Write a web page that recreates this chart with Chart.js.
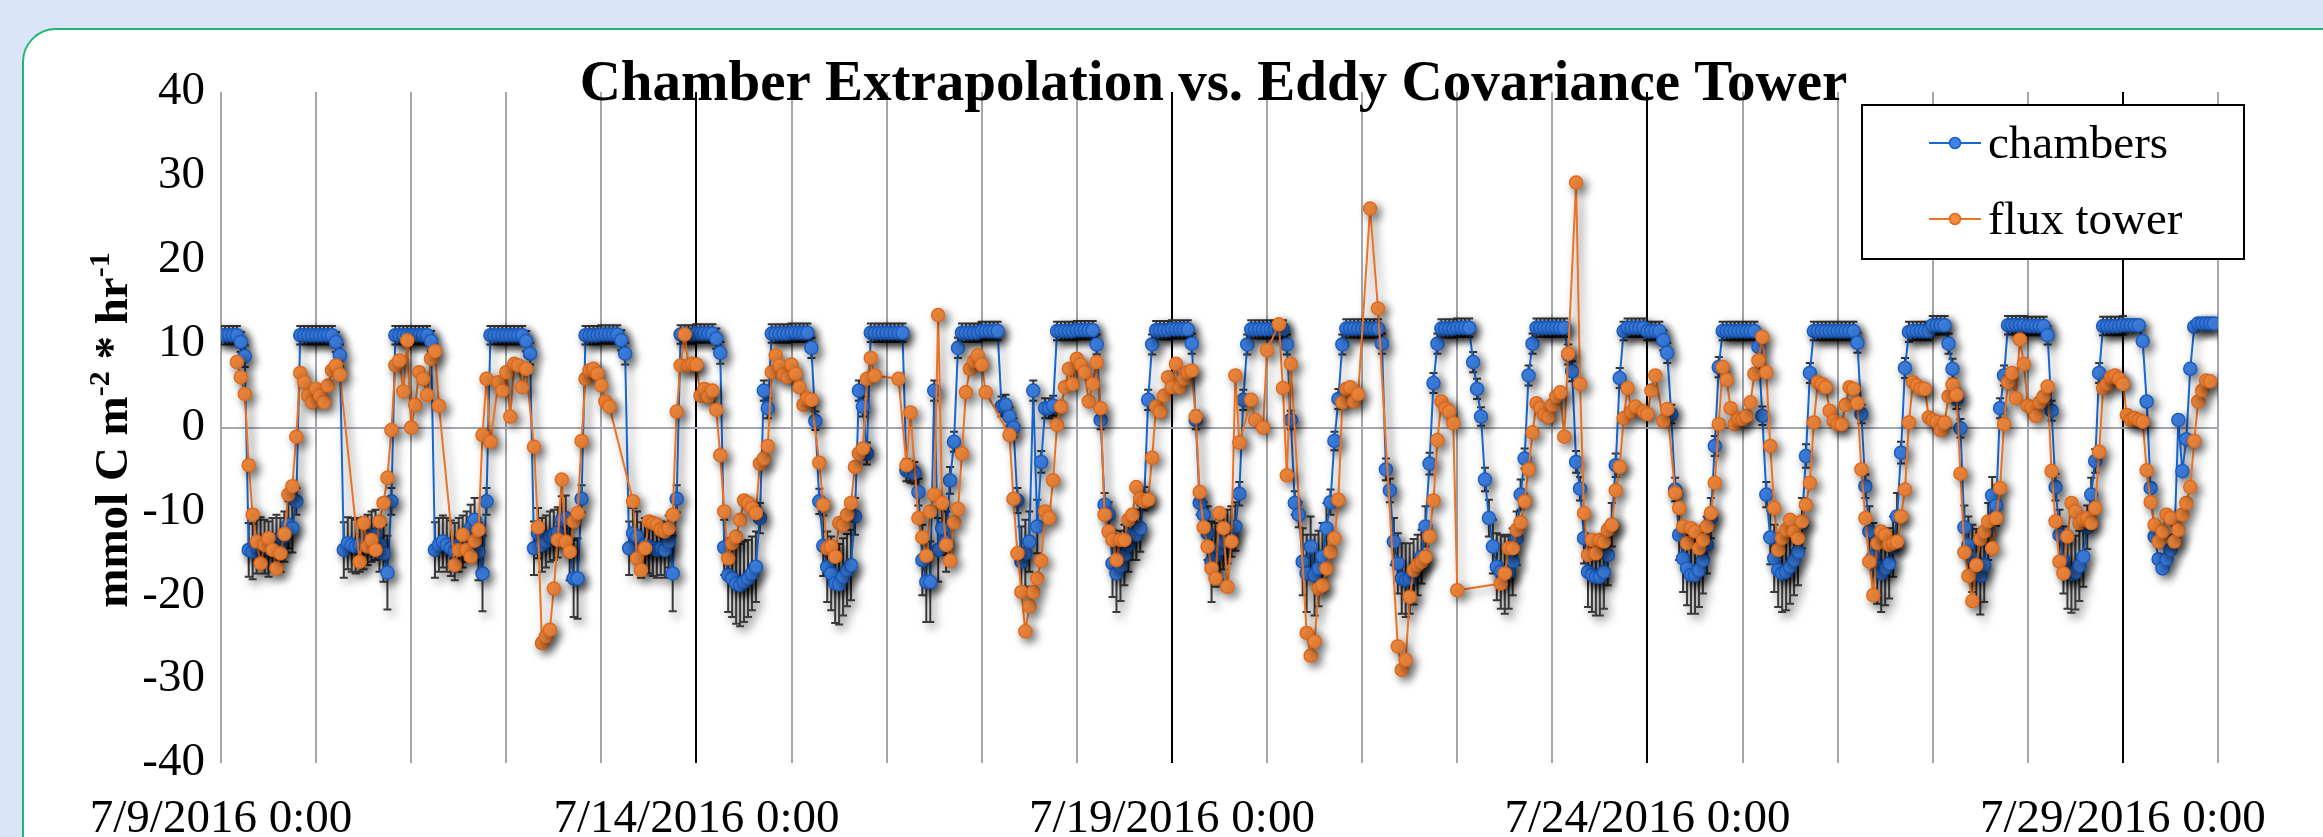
<!DOCTYPE html>
<html>
<head>
<meta charset="utf-8">
<title>Chamber Extrapolation vs. Eddy Covariance Tower</title>
<script src="https://cdn.jsdelivr.net/npm/chart.js@4.4.1/dist/chart.umd.min.js"></script>
<style>
  html, body { margin: 0; padding: 0; background: #dbe5f9; overflow: hidden; }
  .card { position: absolute; left: 22px; top: 28px; width: 2360px; height: 900px; background: #fff; border: 2px solid #22b573; border-radius: 34px; }
  .wrap { position: absolute; left: 0; top: 0; width: 2323px; height: 837px; }
</style>
</head>
<body>
<div class="card"></div>
<div class="wrap"><canvas id="fluxChart"></canvas></div>
<script>
var chartTitle = 'Chamber Extrapolation vs. Eddy Covariance Tower';
var yTitleParts = [['mmol C m', false], ['-2', true], [' * hr', false], ['-1', true]];
var xTickLabels = ['7/9/2016 0:00', '7/14/2016 0:00', '7/19/2016 0:00', '7/24/2016 0:00', '7/29/2016 0:00'];
var hoursPerLabel = 120;
var yMin = -40, yMax = 40, yStep = 10;

// hourly values from 7/9/2016 0:00, one line per day
var chambers = [
  11,11,11,11,11,10.2,8.5,-14.6,-14.8,-14.2,-13.8,-14.2,-14.5,-14,-13.4,-14,-13,-11.6,-12,-8.8,11,11,11,11,
  11,11,11,11,11,10.2,8.6,-14.6,-13.8,-14,-14.2,-14,-13.8,-13.4,-13,-12.8,-14,-15,-17.3,-8.8,11,11,11,11,
  11,11,11,11,11,10.3,-14.6,-14,-13.6,-14,-14.4,-14.8,-14,-13.6,-13,-12,-11,-14.8,-17.4,-8.8,11,11,11,11,
  11,11,11,11,11,10.3,8.8,-14.4,-12.6,-14,-13.6,-13,-12.8,-12.5,-11,-10.8,-14.8,-18,-18,-8.5,11,11,11,11,
  11.1,11.1,11.1,11.1,11.1,10.4,8.8,-14.4,-12.6,-13,-14.6,-14,-14.2,-14.4,-14.6,-14.4,-14.6,-13.6,-17.4,-8.5,11.1,11.1,11.1,11.1,
  11.2,11.2,11.2,11.2,11.2,10.6,8.9,-14.3,-17.6,-18,-18.6,-18.8,-18.4,-18,-17.4,-16.6,-10.8,4.4,2.3,11.2,11.2,11.2,11.2,11.2,
  11.3,11.3,11.3,11.3,11.3,9.5,0.8,-8.8,-14.1,-16.6,-17.4,-18.6,-18.7,-17.8,-17,-16.4,-10.6,4.4,2.5,-3.1,11.3,11.3,11.3,11.3,
  11.3,11.3,11.3,11.3,11.3,-5.1,-5.3,-5.4,-7.7,-15.8,-18.4,-18.4,4.4,-14.6,-12,-13.6,-6.3,-1.7,9.5,11.3,11.3,11.3,11.3,11.3,
  11.5,11.5,11.5,11.5,11.5,2.5,2.7,1.3,0,-8.7,-16,-15,-13.6,4.4,-11.8,-4.1,2.3,2.3,2.6,11.5,11.5,11.5,11.5,11.5,
  11.6,11.6,11.6,11.6,11.6,9.9,0.9,-9.2,-10.4,-16.2,-17.4,-16.5,-15.2,-14,-12.8,-12.8,-12,-8.5,3.3,9.9,11.6,11.6,11.6,11.6,
  11.7,11.7,11.7,11.7,11.7,10,0.9,-9,-10.4,-12.6,-16,-15.2,-14.5,-13.6,-13,-12.4,-11.8,-7.9,3.3,9.9,11.7,11.7,11.7,11.7,
  11.7,11.7,11.7,11.7,11.7,9.9,0.9,-9,-10.4,-16,-17.4,-14.2,-17.6,-16.8,-15.4,-12,-8.9,-1.6,3.4,9.9,11.8,11.8,11.8,11.8,
  11.8,11.8,11.8,11.8,11.8,10,-5,-7.5,-13.6,-16.2,-18,-18.2,-18,-17.2,-16.4,-15.4,-11.8,-4.3,5.3,10,11.8,11.8,11.8,11.8,
  11.9,11.9,11.9,11.9,7.8,4.6,1.3,-6.2,-10.8,-14.2,-16.6,-17.2,-17.6,-17.2,-16,-13.2,-8,-3.7,6.2,10,11.9,11.9,11.9,11.9,
  11.9,11.9,11.9,11.9,8.7,6.7,-4.1,-7.3,-13.2,-17.2,-17.6,-17.8,-17.8,-17.2,-15.2,-11.6,-4.5,5.9,11.5,11.9,11.9,11.9,11.9,11.9,
  11.5,11.5,11.5,11.5,10.4,8.9,1.6,-7.4,-12.8,-15.6,-16.8,-17.6,-17.6,-17,-15.8,-14,-10.8,-2.2,7.2,11.5,11.5,11.5,11.5,11.5,
  11.5,11.5,11.5,11.5,9.6,1.4,-8,-13.1,-15.6,-17,-17.4,-17.2,-16.6,-15.8,-14.8,-11.4,-3.4,6.5,11.5,11.5,11.5,11.5,11.5,11.5,
  11.5,11.5,11.5,11.5,11.5,10.1,1.6,-7,-12.4,-15.4,-16.6,-17.4,-16.8,-16.2,-14.2,-10.6,-3,7.1,11.4,11.5,11.5,11.5,11.5,11.5,
  12.2,12.2,12.2,12.2,10,7,3.4,-0.1,-11.9,-14,-15.6,-16.5,-17.7,-16.4,-12.4,-8.1,-9.3,2.3,6.2,12.2,12.2,12.2,12.2,12.2,
  12.1,12.1,12.1,12.1,12.1,11,2,-7.1,-12.8,-15.8,-17.2,-17.5,-17.3,-16.5,-15.4,-11.9,-8,-4,6.5,12.1,12.1,12.1,12.1,12.1,
  12.2,12.2,12.2,12.2,12.2,10.3,3.1,-7.2,-13,-15.7,-16.8,-15.7,-14.6,-13.4,0.9,-5.2,-1.4,7,12,12.4,12.4,12.4,12.4,12.4
];

// error bar half-widths for the chambers
var chambersSd = [
  1.1,1.1,1.1,1.1,1.1,1.2,1.3,3.2,3.3,3.2,3.1,3.2,3.3,3.2,3,3.2,3,2.8,2.9,1.6,1.1,1.1,1.1,1.1,
  1.1,1.1,1.1,1.1,1.1,1.2,1.3,3.3,3.1,3.2,3.2,3.2,3.1,3,3,3,3.2,3.4,4.4,1.6,1.1,1.1,1.1,1.1,
  1.1,1.1,1.1,1.1,1.1,1.2,3.3,3.2,3.1,3.2,3.3,3.4,3.2,3.1,3,2.8,2.6,3.4,4.5,1.6,1.1,1.1,1.1,1.1,
  1.1,1.1,1.1,1.1,1.1,1.2,1.3,3.2,3,3.2,3.1,3,3,3,2.8,2.7,3.4,4.6,4.8,1.6,1.1,1.1,1.1,1.1,
  1.1,1.1,1.1,1.1,1.1,1.2,1.3,3.2,3,3,3.3,3.2,3.2,3.3,3.3,3.2,3.3,3.1,4.5,1.6,1.1,1.1,1.1,1.1,
  1.1,1.1,1.1,1.1,1.1,1.2,1.3,3.3,4.4,4.6,4.8,4.9,4.8,4.6,4.4,4.2,1.8,1.2,1.2,1.1,1.1,1.1,1.1,1.1,
  1.1,1.1,1.1,1.1,1.1,1.2,1.1,1.5,3.6,4.2,4.4,4.7,4.8,4.6,4.3,4.2,2.2,1.2,1.2,1.3,1.1,1.1,1.1,1.1,
  1.1,1.1,1.1,1.1,1.1,1.3,1.3,1.3,1.6,4.2,4.8,4.8,1.2,3.8,3.2,3.6,1.6,1.2,1.2,1.1,1.1,1.1,1.1,1.1,
  1.1,1.1,1.1,1.1,1.1,1.2,1.2,1.1,1.1,1.5,4.2,4,3.6,1.2,3.2,1.3,1.2,1.2,1.2,1.1,1.1,1.1,1.1,1.1,
  1.1,1.1,1.1,1.1,1.1,1.2,1.1,1.4,1.5,4,4.6,4.2,3.6,3.2,3,3,2.8,1.4,1.2,1.2,1.1,1.1,1.1,1.1,
  1.1,1.1,1.1,1.1,1.1,1.2,1.1,1.4,1.5,3.2,4.8,3.8,3.6,3.3,3.2,3,2.9,1.4,1.2,1.2,1.1,1.1,1.1,1.1,
  1.1,1.1,1.1,1.1,1.1,1.2,1.1,1.4,1.5,4,4.6,3.6,4.8,4.5,4,3,1.5,1.1,1.2,1.2,1.1,1.1,1.1,1.1,
  1.1,1.1,1.1,1.1,1.1,1.2,1.3,1.4,2.8,3.6,4.2,4.4,4.2,3.9,3.6,3.2,2.4,1.3,1.2,1.2,1.1,1.1,1.1,1.1,
  1.1,1.1,1.1,1.1,1.2,1.2,1.1,1.4,2.2,3.2,4,4.4,4.6,4.4,4,3.2,1.8,1.2,1.2,1.2,1.1,1.1,1.1,1.1,
  1.1,1.1,1.1,1.1,1.2,1.2,1.3,1.4,3,4.2,4.4,4.6,4.6,4.4,3.6,2.6,1.4,1.2,1.1,1.1,1.1,1.1,1.1,1.1,
  1.1,1.1,1.1,1.1,1.2,1.2,1.1,1.4,3,4,4.4,4.6,4.6,4.4,4,3.4,2.4,1.2,1.2,1.1,1.1,1.1,1.1,1.1,
  1.1,1.1,1.1,1.1,1.2,1.1,1.5,3.2,4,4.4,4.6,4.6,4.4,4.2,4,3,1.4,1.2,1.1,1.1,1.1,1.1,1.1,1.1,
  1.1,1.1,1.1,1.1,1.1,1.2,1.1,1.4,3,4,4.4,4.6,4.4,4.2,3.6,2.8,1.3,1.2,1.2,1.1,1.1,1.1,1.1,1.1,
  1.1,1.1,1.1,1.1,1.2,1.2,1.2,1.1,2.6,3.4,4,4.4,4.6,4.4,3.4,2.2,2.4,1.2,1.2,1.1,1.1,1.1,1.1,1.1,
  1.1,1.1,1.1,1.1,1.1,1.1,1.2,1.6,3,4,4.4,4.6,4.4,4.2,3.6,2.6,2,1.4,1.2,1.1,1.1,1.1,1.1,1.1,
  1.1,null,null,null,null,null,null,null,null,null,null,null,null,null,null,null,null,null,null,null,null,null,null,null
];

var fluxTower = [
  null,null,null,null,7.8,6.0,4.0,-4.5,-10.4,-13.6,-16.2,-14,-13.2,-14.6,-16.8,-15,-12.7,-8,-7,-1.1,6.5,5.4,3.8,3.0,
  4.6,3.8,3.0,5.0,6.8,7.4,6.3,null,null,null,null,-16,-11.4,-14.2,-13.4,-14.6,-11.2,-9,-6,-0.3,7.4,8.0,4.3,10.4,
  0,2.7,6.6,5.8,3.9,8.2,9.1,2.6,null,null,null,-16.4,-14.6,-12.8,-14.6,-15.4,-13.5,-12.2,-0.9,5.8,-1.7,null,5.4,4.4,
  6.6,1.3,7.6,7.4,4.8,7.0,null,-2.3,-11.9,-25.7,-24.9,-24.1,-19.2,-13.4,-6.2,-13.6,-14.8,-11.2,-10.2,-1.6,5.8,6.8,7.0,6.4,
  5.0,3.1,2.5,null,null,null,null,null,-8.8,-15.6,-17,-14.4,-11.2,-11.4,-11.6,-12.2,-12.4,-12,-10.4,1.9,7.4,11.1,7.4,7.6,
  7.5,3.8,4.6,3.7,4.4,2.1,-3.3,-10,-15.6,-13.8,-13,-11,-8.7,-9,-9.6,-10.2,-4.3,-3.7,-2.2,6.6,8.6,7.4,6.3,6.0,
  7.5,6.4,4.8,2.7,3.5,3.3,null,-4.2,-9.2,-14.4,-14.2,-15.4,-11.4,-11.6,-10.4,-9,-4.7,-3.1,-2.5,5.8,8.3,6.2,null,null,
  null,null,null,5.8,null,-4.5,1.8,null,-10.8,-13.1,-15.3,-10,-8,13.4,-9,-14,-15.9,-11.3,-9.7,-3.1,4.2,7.0,7.9,8.6,
  7.5,4.2,null,null,null,null,null,-0.9,-8.5,-15,-19.6,-24.3,-21.3,-19.6,-18,-15.9,-10,-10.8,-6.3,0.3,2.5,4.8,7.0,5.2,
  8.2,7.5,6.6,3.1,5.2,7.8,2.3,-10.4,-12.4,-13.4,-15.8,-13.4,-13.4,-11,-10.4,-7.1,-8.5,-8.8,-8.6,-3.6,2.5,1.9,3.8,6.0,
  4.8,7.6,4.8,5.8,6.6,6.8,1.3,-7.7,-11.9,-14.2,-16.8,-18,-10.2,-12,-19,-13.6,6.2,-1.8,null,null,3.3,0.9,null,0,
  9.2,null,null,12.3,4.7,-5.7,7.6,null,null,null,-24.5,-27.2,-25.5,-19.2,-18.8,-16.8,-14.8,-13.2,-8.6,3.0,4.6,4.8,3.1,4.0,
  null,null,26.1,null,14.2,null,null,null,null,-26.1,-28.9,-27.7,-20.2,-17,-16.4,-16,-15.4,-13,-8.7,-1.5,3.1,2.3,1.9,0.5,
  -19.4,null,null,null,null,null,null,null,null,null,null,-18.6,-17.4,-14.4,-14.4,-12.2,-11.3,-8.8,-5.0,-0.6,2.9,2.3,1.5,1.3,
  2.7,3.7,4.2,-1.1,8.8,null,29.2,5.2,-10.2,-15.2,-13.4,-15,-13.4,-13.6,-12.2,-11.6,-7.5,-4.7,1.1,4.7,1.9,2.5,null,1.9,
  1.6,4.4,6.2,null,0.8,2.2,null,-7.8,-9.6,-11.8,-13.8,-12,-12.4,-14.4,-13.4,-11.8,-10.2,-6.6,0.4,7.2,5.7,2.3,0.4,1.0,
  1.0,1.4,3.0,6.4,8.0,10.8,6.6,-2.2,-9.6,-14.6,-13.2,-12.2,-11,-12.4,-13.2,-11.2,-9.2,-6.6,0.6,5.4,5.2,4.8,2.0,0.8,
  0.4,0.4,2.7,4.8,4.6,2.9,-5,-10.8,-16,-20,-13.8,-12.4,-12.8,-14,-13.8,-13.6,-10.6,-7.4,0.6,5.4,5.0,4.6,4.6,1.2,
  0.9,0.7,-0.3,0.6,3.7,5.1,3.9,-5.5,-14.9,-17.7,-20.7,-16.4,-13.3,-12.4,-11.2,-14.4,-10.8,-7.2,0.4,5.4,6.5,3.5,10.5,7.6,
  2.6,2.4,1.4,3.0,3.7,4.9,-5.2,-11.2,-16,-17.4,-13,-9,-10,-11.4,-11,-10.8,-11.4,-9.6,-2.9,4.7,5.2,6.0,6.2,5.8,
  5.2,1.5,0.9,1.1,0.9,0.7,-5.1,-8.9,-11.6,-13.6,-12.4,-10.4,-10.8,-13.6,-12.2,-10.4,-9,-7.1,-1.6,3.1,4.4,5.6,5.5,null
];

var serif = "'Liberation Serif', 'Times New Roman', serif";
Chart.defaults.font.family = serif;
Chart.defaults.color = '#000';

function toPoints(values) {
    return values.map(function(v, i) { return { x: i, y: v }; });
}

// soft drop shadow under everything the datasets draw
var shadowPlugin = {
    id: 'markerShadow',
    beforeDatasetsDraw: function(chart) {
        var ctx = chart.ctx;
        ctx.save();
        ctx.shadowColor = 'rgba(0,0,0,0.55)';
        ctx.shadowBlur = 10;
        ctx.shadowOffsetX = 4;
        ctx.shadowOffsetY = 4;
    },
    afterDatasetsDraw: function(chart) {
        chart.ctx.restore();
    }
};

var errorBarPlugin = {
    id: 'errorBars',
    beforeDatasetDraw: function(chart, args) {
        if (args.index !== 0) return;
        var ctx = chart.ctx, xs = chart.scales.x, ys = chart.scales.y, area = chart.chartArea;
        ctx.save();
        ctx.beginPath();
        ctx.rect(area.left, area.top, area.right - area.left, area.bottom - area.top);
        ctx.clip();
        ctx.strokeStyle = '#3a3a3a';
        ctx.lineWidth = 2;
        ctx.beginPath();
        chambers.forEach(function(v, i) {
            var e = chambersSd[i];
            if (v === null || e === null) return;
            var px = xs.getPixelForValue(i);
            var top = ys.getPixelForValue(v + e);
            var bot = ys.getPixelForValue(v - e);
            ctx.moveTo(px, top); ctx.lineTo(px, bot);
            ctx.moveTo(px - 4, top); ctx.lineTo(px + 4, top);
            ctx.moveTo(px - 4, bot); ctx.lineTo(px + 4, bot);
        });
        ctx.stroke();
        ctx.restore();
    }
};

var decorPlugin = {
    id: 'decor',
    afterDraw: function(chart) {
        var ctx = chart.ctx, area = chart.chartArea;

        // title
        ctx.save();
        ctx.fillStyle = '#000';
        ctx.font = 'bold 57px ' + serif;
        ctx.textAlign = 'center';
        ctx.textBaseline = 'alphabetic';
        ctx.fillText(chartTitle, (area.left + area.right) / 2 - 6, 100);
        ctx.restore();

        // y axis title with superscripts
        ctx.save();
        ctx.translate(127, 430);
        ctx.rotate(-Math.PI / 2);
        ctx.fillStyle = '#000';
        ctx.textAlign = 'left';
        ctx.textBaseline = 'alphabetic';
        var mainFont = 'bold 47px ' + serif, supFont = 'bold 30px ' + serif;
        var total = 0;
        yTitleParts.forEach(function(p) {
            ctx.font = p[1] ? supFont : mainFont;
            total += ctx.measureText(p[0]).width;
        });
        var cx = -total / 2;
        yTitleParts.forEach(function(p) {
            ctx.font = p[1] ? supFont : mainFont;
            ctx.fillText(p[0], cx, p[1] ? -18 : 0);
            cx += ctx.measureText(p[0]).width;
        });
        ctx.restore();

        // legend
        ctx.save();
        ctx.fillStyle = '#fff';
        ctx.fillRect(1862, 105, 382, 154);
        ctx.lineWidth = 2;
        ctx.strokeStyle = '#000';
        ctx.strokeRect(1862, 105, 382, 154);
        chart.data.datasets.forEach(function(ds, i) {
            var cy = 143 + i * 76;
            ctx.strokeStyle = ds.borderColor;
            ctx.lineWidth = 2;
            ctx.beginPath(); ctx.moveTo(1929, cy); ctx.lineTo(1981, cy); ctx.stroke();
            ctx.beginPath(); ctx.arc(1955, cy, 5.5, 0, 2 * Math.PI);
            ctx.fillStyle = ds.pointBackgroundColor; ctx.fill();
            ctx.lineWidth = 1.5; ctx.strokeStyle = ds.pointBorderColor; ctx.stroke();
            ctx.fillStyle = '#000';
            ctx.font = '47px ' + serif;
            ctx.textAlign = 'left';
            ctx.textBaseline = 'alphabetic';
            ctx.fillText(ds.label, 1988, cy + 15);
        });
        ctx.restore();
    }
};

var ctx = document.getElementById('fluxChart').getContext('2d');
new Chart(ctx, {
    type: 'line',
    data: {
        datasets: [
            {
                label: 'chambers',
                data: toPoints(chambers),
                borderColor: '#1767d2',
                backgroundColor: '#3f83e6',
                pointBackgroundColor: '#3f83e6',
                pointBorderColor: '#1a5ec4',
                pointRadius: 6.5,
                pointBorderWidth: 1.5,
                borderWidth: 2,
                spanGaps: true,
                order: 1
            },
            {
                label: 'flux tower',
                data: toPoints(fluxTower),
                borderColor: '#ec7323',
                backgroundColor: '#f68b3e',
                pointBackgroundColor: '#f68b3e',
                pointBorderColor: '#e06a1c',
                pointRadius: 6.5,
                pointBorderWidth: 1.5,
                borderWidth: 2,
                spanGaps: true,
                order: 0
            }
        ]
    },
    options: {
        responsive: true,
        maintainAspectRatio: false,
        devicePixelRatio: 1,
        animation: false,
        layout: { padding: { top: 92, right: 105, left: 0, bottom: 0 } },
        plugins: {
            legend: { display: false },
            title: { display: false },
            tooltip: { enabled: false }
        },
        scales: {
            x: {
                type: 'linear',
                min: 0,
                max: chambers.length,
                border: { display: false },
                grid: {
                    drawTicks: false,
                    lineWidth: 2,
                    color: function(c) {
                        var v = c.tick ? c.tick.value : 0;
                        return (v > 0 && v % hoursPerLabel === 0) ? '#000' : '#a4a8ae';
                    }
                },
                ticks: {
                    stepSize: 24,
                    autoSkip: false,
                    maxRotation: 0,
                    minRotation: 0,
                    padding: 28,
                    color: '#000',
                    font: { size: 47 },
                    callback: function(v) {
                        return v % hoursPerLabel === 0 ? xTickLabels[v / hoursPerLabel] : '';
                    }
                },
                afterFit: function(scale) { scale.height = 74; }
            },
            y: {
                min: yMin,
                max: yMax,
                border: { display: false },
                grid: {
                    drawTicks: false,
                    lineWidth: 2,
                    color: function(c) {
                        return (c.tick && c.tick.value === 0) ? '#a4a8ae' : 'rgba(0,0,0,0)';
                    }
                },
                ticks: {
                    stepSize: yStep,
                    padding: 16,
                    color: '#000',
                    font: { size: 47 }
                },
                afterFit: function(scale) { scale.width = 221; }
            }
        }
    },
    plugins: [shadowPlugin, errorBarPlugin, decorPlugin]
});
</script>
</body>
</html>
